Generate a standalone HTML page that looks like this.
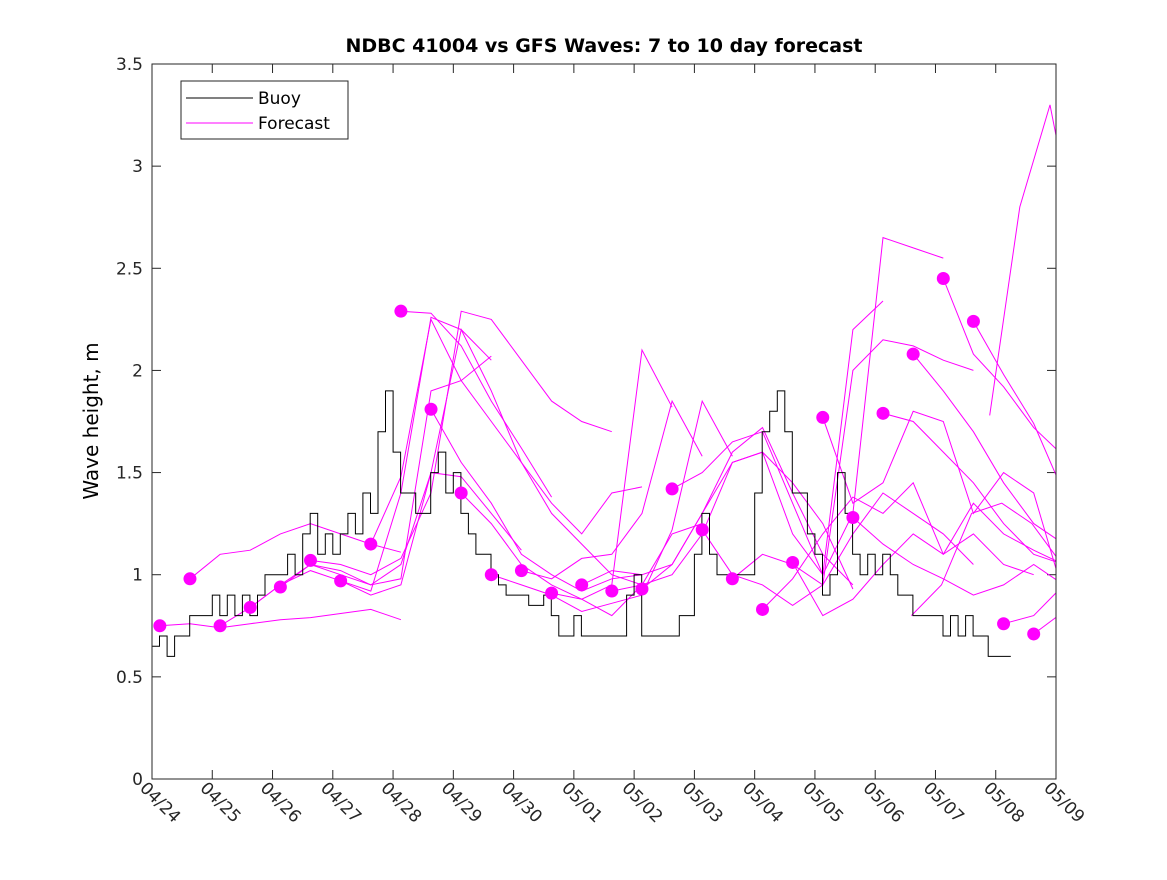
<!DOCTYPE html>
<html><head><meta charset="utf-8"><style>
body{margin:0;background:#fff;}
text{font-family:"DejaVu Sans","Liberation Sans",sans-serif;}
</style></head><body>
<svg id="chart" width="1167" height="875" xmlns="http://www.w3.org/2000/svg">
<defs><clipPath id="clip"><rect x="152" y="64" width="904" height="715"/></clipPath></defs>
<rect width="1167" height="875" fill="#fff"/>
<text x="604" y="52" text-anchor="middle" font-size="19" font-weight="bold">NDBC 41004 vs GFS Waves: 7 to 10 day forecast</text>
<text transform="translate(98,421) rotate(-90)" text-anchor="middle" font-size="20">Wave height, m</text>
<g id="axes"></g>
<g id="plot" clip-path="url(#clip)"></g>
<rect x="152" y="64" width="904" height="715" fill="none" stroke="#262626" stroke-width="1"/>
<g>
<rect x="181" y="81" width="167" height="58" fill="#fff" stroke="#262626"/>
<line x1="186" y1="98" x2="253" y2="98" stroke="#000"/>
<text x="258" y="104" font-size="17">Buoy</text>
<line x1="186" y1="123" x2="253" y2="123" stroke="#f0f"/>
<text x="258" y="129" font-size="17">Forecast</text>
</g>
</svg>
<script>
const xTickLabels=["04/24","04/25","04/26","04/27","04/28","04/29","04/30","05/01","05/02","05/03","05/04","05/05","05/06","05/07","05/08","05/09"];
const yTicks=[0,0.5,1,1.5,2,2.5,3,3.5];
const yTickLabels=["0","0.5","1","1.5","2","2.5","3","3.5"];
const buoyStep=0.125;
const buoyValues=[0.65,0.7,0.6,0.7,0.7,0.8,0.8,0.8,0.9,0.8,0.9,0.8,0.9,0.8,0.9,1.0,1.0,1.0,1.1,1.0,1.2,1.3,1.1,1.2,1.1,1.2,1.3,1.2,1.4,1.3,1.7,1.9,1.6,1.4,1.4,1.3,1.3,1.5,1.6,1.4,1.5,1.3,1.2,1.1,1.1,1.0,0.95,0.9,0.9,0.9,0.85,0.85,0.9,0.8,0.7,0.7,0.8,0.7,0.7,0.7,0.7,0.7,0.7,0.9,1.0,0.7,0.7,0.7,0.7,0.7,0.8,0.8,1.1,1.3,1.1,1.0,1.0,1.0,1.0,1.0,1.4,1.7,1.8,1.9,1.7,1.4,1.4,1.2,1.1,0.9,1.0,1.5,1.3,1.1,1.0,1.1,1.0,1.1,1.0,0.9,0.9,0.8,0.8,0.8,0.8,0.7,0.8,0.7,0.8,0.7,0.7,0.6,0.6,0.6];
const dotDays=[0.13,0.63,1.13,1.63,2.13,2.63,3.13,3.63,4.13,4.63,5.13,5.63,6.13,6.63,7.13,7.63,8.13,8.63,9.13,9.63,10.13,10.63,11.13,11.63,12.13,12.63,13.13,13.63,14.13,14.63];
const dotValues=[0.75,0.98,0.75,0.84,0.94,1.07,0.97,1.15,2.29,1.81,1.40,1.00,1.02,0.91,0.95,0.92,0.93,1.42,1.22,0.98,0.83,1.06,1.77,1.28,1.79,2.08,2.45,2.24,0.76,0.71];
const forecastStep=0.5;
const forecastStarts=[0.13,0.63,1.13,1.63,2.13,2.63,3.13,3.63,4.13,4.63,5.13,5.63,6.13,6.63,7.13,7.63,8.13,8.63,9.13,9.63,10.13,10.63,11.13,11.63,12.13,12.63,13.13,13.63,14.13,14.63,12.6,13.9];
const forecastValues=[
[0.75,0.76,0.74,0.76,0.78,0.79,0.81,0.83,0.78],
[0.98,1.10,1.12,1.20,1.25,1.20,1.15,1.11],
[0.75,0.84,0.95,1.02,0.97,0.92,1.40,2.26,2.20,2.05],
[0.84,0.95,1.05,1.00,0.95,0.98,1.90,1.95,2.07],
[0.94,1.05,1.02,0.95,1.05,1.50,1.48,1.30,1.12],
[1.07,1.05,1.00,1.08,1.40,2.29,2.25,2.05,1.85,1.75,1.70],
[0.97,0.90,0.95,1.50,2.20,1.90,1.55,1.35,1.20,1.40,1.43],
[1.15,1.48,2.25,1.95,1.75,1.55,1.30,1.15,1.00,0.95],
[2.29,2.28,2.12,1.85,1.62,1.38],
[1.81,1.55,1.35,1.10,1.00,0.92,0.98,1.00],
[1.40,1.25,1.05,0.95,0.88,0.80,0.95,1.20,1.25],
[1.00,0.95,0.90,0.82,0.86,0.90,1.22,1.85,1.58],
[1.02,0.98,1.08,1.10,1.30,1.85,1.58],
[0.91,0.88,0.95,2.10,1.82],
[0.95,1.02,1.00,1.05,1.30,1.60,1.72,1.40,1.10,0.95],
[0.92,0.95,1.00,1.20,1.55,1.60,1.45,1.25,0.93],
[0.93,1.05,1.30,1.55,1.60,1.20,1.00,2.20,2.34],
[1.42,1.50,1.65,1.70,1.35,1.00,1.30,2.65,2.60,2.55],
[1.22,1.00,0.95,0.85,0.95,1.20,1.40,1.30,1.20,1.05],
[0.98,1.10,1.05,0.95,2.00,2.15,2.12,2.05,2.00],
[0.83,0.98,1.20,1.38,1.30,1.45,1.10,1.20,1.05,1.00],
[1.06,0.80,0.88,1.05,1.20,1.10,1.35,1.20,1.12,1.05],
[1.77,1.35,1.45,1.80,1.75,1.30,1.50,1.40,0.90,0.62],
[1.28,1.15,1.05,0.98,0.90,0.95,1.05,0.95,0.93,0.88,0.85],
[1.79,1.75,1.60,1.45,1.25,1.10,1.05,1.05,1.05],
[2.08,1.90,1.70,1.45,1.25,1.15,1.08,1.10],
[2.45,2.08,1.92,1.72,1.58],
[2.24,1.98,1.74,1.40,1.25],
[0.76,0.80,0.95],
[0.71,0.82],
[0.80,0.95,1.30,1.35,1.25,1.05,1.00,1.05],
[1.78,2.80,3.30,2.55]
];
const NS="http://www.w3.org/2000/svg";
const X0=152,X1=1056,Y0=779,Y1=64,DAYS=15,YMAX=3.5;
function xs(d){return X0+d*(X1-X0)/DAYS;}
function ys(v){return Y0-v*(Y0-Y1)/YMAX;}
function mk(tag,attrs,parent){const e=document.createElementNS(NS,tag);for(const k in attrs)e.setAttribute(k,attrs[k]);parent.appendChild(e);return e;}
const axes=document.getElementById('axes'),plot=document.getElementById('plot');
xTickLabels.forEach((lab,i)=>{
  const x=xs(i);
  const t=mk('line',{x1:x,y1:Y0,x2:x,y2:Y0-9,stroke:'#262626'},axes);
  
  
  const t2=mk('line',{x1:x,y1:Y1,x2:x,y2:Y1+9,stroke:'#262626'},axes);
  
  
  const tx=mk('text',{transform:`translate(${x-13},${Y0+10}) rotate(45)`,'font-size':17,fill:'#262626'},axes);
  tx.textContent=lab;
  
  
});
yTicks.forEach((v,i)=>{
  const y=ys(v);
  const t=mk('line',{x1:X0,y1:y,x2:X0+9,y2:y,stroke:'#262626'},axes);
  
  
  const t2=mk('line',{x1:X1,y1:y,x2:X1-9,y2:y,stroke:'#262626'},axes);
  
  
  const tx=mk('text',{x:X0-9,y:y+6,'text-anchor':'end','font-size':17,fill:'#262626'},axes);
  tx.textContent=yTickLabels[i];
  
  
});
forecastValues.forEach((vals,j)=>{
  const pts=vals.map((v,k)=>xs(forecastStarts[j]+k*forecastStep).toFixed(1)+','+ys(v).toFixed(1)).join(' ');
  const p=mk('polyline',{points:pts,fill:'none',stroke:'#f0f','stroke-width':1},plot);
  
  
});
let bp=[];
buoyValues.forEach((v,k)=>{
  const x0=xs(k*buoyStep),x1=xs((k+1)*buoyStep);
  bp.push(x0.toFixed(1)+','+ys(v).toFixed(1));
  bp.push(x1.toFixed(1)+','+ys(v).toFixed(1));
});
const b=mk('polyline',{points:bp.join(' '),fill:'none',stroke:'#000','stroke-width':1},plot);


dotDays.forEach((d,i)=>{
  const c=mk('circle',{cx:xs(d),cy:ys(dotValues[i]),r:6.5,fill:'#f0f'},plot);
  
  
});
</script>
</body></html>
